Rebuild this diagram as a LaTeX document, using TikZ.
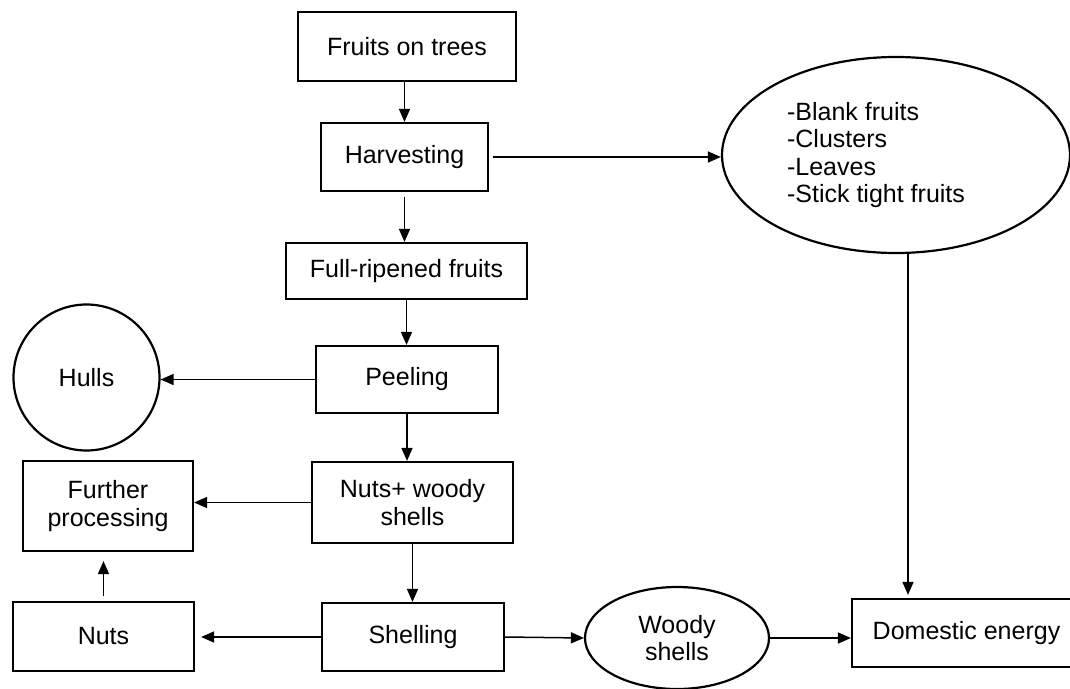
\documentclass[tikz,border=0pt]{standalone}
\usepackage{fontspec}
\setmainfont{Liberation Sans}
\usepackage{tikz}
\usetikzlibrary{arrows.meta}
\usetikzlibrary{positioning}
\usetikzlibrary{shapes.geometric}
\tikzset{>={Triangle[length=13pt,width=11pt]}}
\newcommand\boxline{2.2pt}
\newcommand\flowline{1.5pt}
\tikzset{
    stepbox/.style = {draw, line width=\boxline, rectangle, align=center, inner sep=0pt},
    outcome/.style = {draw, line width=\boxline, ellipse, align=center, inner sep=0pt},
    hullnode/.style = {draw, line width=\boxline, circle, inner sep=0pt, minimum size=146pt},
    flow/.style = {->, line width=\flowline},
}

\begin{document}
\begin{tikzpicture}[x=1pt,y=-1pt,every node/.style={font=\fontsize{25}{27.5}\selectfont}]
    \useasboundingbox (0,0) rectangle (1070,688);
    \node (fruits)[stepbox, minimum width=218pt, minimum height=69pt] at (407,46.5) {Fruits on trees};
    \node (harvest)[stepbox, minimum width=167pt, minimum height=68pt] at (404.5,157) {Harvesting};
    \node (ripe)[stepbox, minimum width=241pt, minimum height=56pt] at (406.5,271) {Full-ripened fruits};
    \node (peel)[stepbox, minimum width=182pt, minimum height=67pt] at (407,379.5) {Peeling};
    \node (hulls)[hullnode] at (86.5,377.5) {Hulls};
    \node (nutshell)[stepbox, minimum width=201pt, minimum height=81pt] at (412.5,502.5) {Nuts+ woody\\shells};
    \node (further)[stepbox, minimum width=170pt, minimum height=90pt] at (108,506) {Further\\processing};
    \node (nuts)[stepbox, minimum width=181pt, minimum height=69pt] at (103.5,636.5) {Nuts};
    \node (shell)[stepbox, minimum width=182pt, minimum height=68pt] at (413,637) {Shelling};
    \node (woody)[outcome, minimum width=184pt, minimum height=102pt] at (677,638) {Woody\\shells};
    \node (energy)[stepbox, minimum width=229pt, minimum height=68pt] at (966.5,633) {Domestic energy};
    \node (waste)[outcome, minimum width=348pt, minimum height=196pt,
        label={[align=left, xshift=-20pt]center:{-Blank fruits\\-Clusters\\-Leaves\\-Stick tight fruits}}] at (896,155) {};
    % main line
    \draw[flow] (harvest.north |- fruits.south) -- (harvest.north);
    \draw[flow, shorten <=5pt] (harvest.south) -- (harvest.south |- ripe.north);
    \draw[flow] (ripe.south) -- (ripe.south |- peel.north);
    \draw[flow] (peel.south) -- (peel.south |- nutshell.north);
    \draw[flow] (nutshell.south) -- (nutshell.south |- shell.north);
    % side products
    \draw[flow, shorten <=4pt] (harvest.east) -- (harvest.east -| waste.west);
    \draw[flow] (peel.west) -- (peel.west -| hulls.east);
    \draw[flow] (nutshell.west) -- (nutshell.west -| further.east);
    \draw[flow, shorten >=6pt] (shell.west) -- (shell.west -| nuts.east);
    \draw[flow, shorten <=5pt, shorten >=9pt] (nuts.north) -- (nuts.north |- further.south);
    \draw[flow] (shell.east) -- (woody.west);
    \draw[flow] (woody.east) -- (woody.east -| energy.west);
    \draw[flow, shorten >=3pt] ([xshift=12pt]waste.south) -- ([xshift=12pt]waste.south |- energy.north);
\end{tikzpicture}
\end{document}
